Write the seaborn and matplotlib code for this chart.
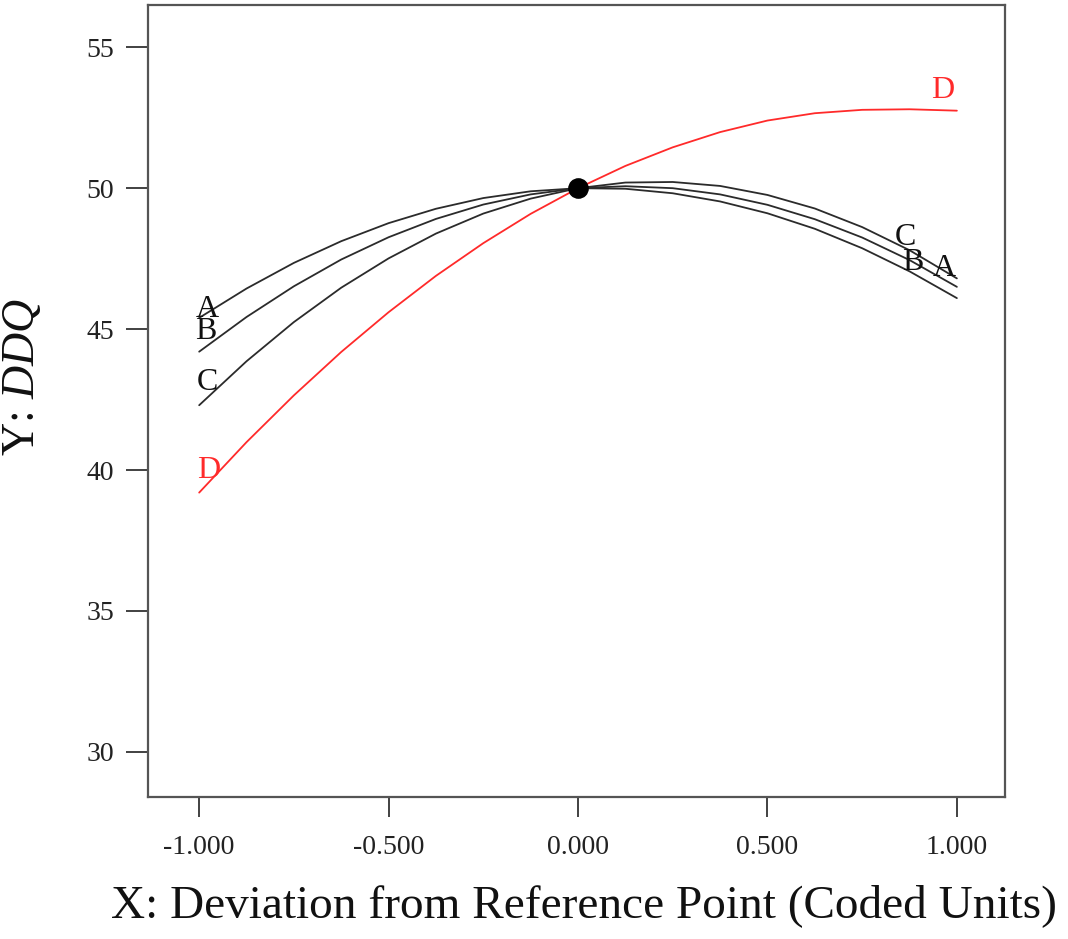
import numpy as np
import pandas as pd
import matplotlib
matplotlib.use("Agg")
import matplotlib.pyplot as plt
import seaborn as sns

# ---- data ----
x_dev = [-1.0, -0.875, -0.75, -0.625, -0.5, -0.375, -0.25, -0.125, 0.0,
         0.125, 0.25, 0.375, 0.5, 0.625, 0.75, 0.875, 1.0]
y_A = [45.40, 46.44, 47.35, 48.12, 48.76, 49.27, 49.65, 49.89, 50.00,
       49.98, 49.82, 49.53, 49.11, 48.56, 47.87, 47.05, 46.10]
y_B = [44.20, 45.43, 46.52, 47.47, 48.26, 48.91, 49.42, 49.78, 50.00,
       50.07, 50.00, 49.78, 49.41, 48.90, 48.25, 47.45, 46.50]
y_C = [42.30, 43.86, 45.25, 46.47, 47.51, 48.39, 49.10, 49.63, 50.00,
       50.20, 50.22, 50.08, 49.76, 49.28, 48.62, 47.80, 46.80]
y_D = [39.20, 40.99, 42.65, 44.19, 45.60, 46.89, 48.05, 49.09, 50.00,
       50.79, 51.45, 51.99, 52.40, 52.66, 52.78, 52.80, 52.75]
factors = ["A", "B", "C", "D"]
ref_x = [0.0]
ref_y = [50.0]
x_ticks = [-1.0, -0.5, 0.0, 0.5, 1.0]
y_ticks = [30, 35, 40, 45, 50, 55]
# label anchor positions (data coords) for curve tags
left_tags = {"A": (-0.979, 45.70), "B": (-0.982, 44.90), "C": (-0.979, 43.12), "D": (-0.976, 40.0)}
right_tags = {"C": (0.863, 48.26), "B": (0.884, 47.38), "A": (0.968, 47.16), "D": (0.963, 53.48)}

sns.set_style("white")
plt.rcParams["font.family"] = ["Liberation Serif", "DejaVu Serif"]
plt.rcParams["mathtext.fontset"] = "custom"
plt.rcParams["mathtext.it"] = "Liberation Serif:italic"
plt.rcParams["mathtext.rm"] = "Liberation Serif"
plt.rcParams["axes.unicode_minus"] = False

series = {"A": y_A, "B": y_B, "C": y_C, "D": y_D}
df = pd.concat([pd.DataFrame({"x": x_dev, "y": v, "factor": k}) for k, v in series.items()],
               ignore_index=True)
palette = {"A": "#2b2b2b", "B": "#2b2b2b", "C": "#2b2b2b", "D": "#ff2a2a"}

fig = plt.figure(figsize=(10.68, 9.39), dpi=100)
ax = fig.add_axes([0.1386, 0.1512, 0.941 - 0.1386, 0.9947 - 0.1512])

sns.lineplot(data=df, x="x", y="y", hue="factor", palette=palette, legend=False,
             linewidth=1.3, ax=ax, sort=True)
sns.scatterplot(x=ref_x, y=ref_y, color="black", s=190, edgecolor="black", zorder=5, ax=ax)

for k, (tx, ty) in left_tags.items():
    ax.text(tx, ty, k, ha="center", va="center", fontsize=23,
            color=palette[k] if k == "D" else "#111111")
for k, (tx, ty) in right_tags.items():
    ax.text(tx, ty, k, ha="center", va="center", fontsize=23,
            color=palette[k] if k == "D" else "#111111")

ax.set_xlim(-1.135, 1.127)
ax.set_ylim(28.4, 56.5)
ax.set_xticks(x_ticks)
ax.set_xticklabels([f"{v:.3f}" for v in x_ticks])
ax.set_yticks(y_ticks)
ax.set_yticklabels([str(v) for v in y_ticks])
ax.tick_params(axis="x", bottom=True, direction="out", length=14.5, width=1.3, pad=13,
               labelsize=20, colors="#333333", labelcolor="#222222")
ax.tick_params(axis="y", left=True, direction="out", length=15.5, width=1.3, pad=9,
               labelsize=20, colors="#333333", labelcolor="#222222")
for sp in ax.spines.values():
    sp.set_color("#555555")
    sp.set_linewidth(1.6)
    sp.set_visible(True)

ax.set_xlabel("X: Deviation from Reference Point (Coded Units)", fontsize=34,
              color="#111111")
ax.xaxis.set_label_coords(0.509, -0.110)
ax.set_ylabel(r"Y: $\mathit{DDQ}$", fontsize=33, color="#111111")
ax.yaxis.set_label_coords(-0.121, 0.53)

fig.savefig("out.png", dpi=100, facecolor="white")
